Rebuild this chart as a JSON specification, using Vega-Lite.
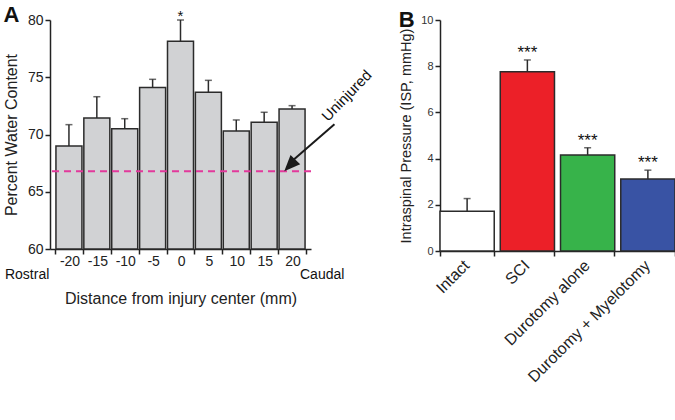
{
  "$schema": "https://vega.github.io/schema/vega-lite/v6.json",
  "background": "white",
  "padding": {"left": 3, "top": 4, "right": 2, "bottom": 2},
  "spacing": 23,
  "datasets": {
    "water": [
      {"d": -20, "v": 69.0, "e": 70.86, "sig": ""},
      {"d": -15, "v": 71.44, "e": 73.3, "sig": ""},
      {"d": -10, "v": 70.5, "e": 71.38, "sig": ""},
      {"d": -5, "v": 74.1, "e": 74.82, "sig": ""},
      {"d": 0, "v": 78.14, "e": 80.0, "sig": "*"},
      {"d": 5, "v": 73.7, "e": 74.73, "sig": ""},
      {"d": 10, "v": 70.3, "e": 71.27, "sig": ""},
      {"d": 15, "v": 71.06, "e": 71.94, "sig": ""},
      {"d": 20, "v": 72.23, "e": 72.52, "sig": ""}
    ],
    "isp": [
      {"cond": "Intact", "v": 1.72, "e": 2.27, "sig": ""},
      {"cond": "SCI", "v": 7.76, "e": 8.27, "sig": "***"},
      {"cond": "Durotomy alone", "v": 4.16, "e": 4.47, "sig": "***"},
      {"cond": "Durotomy + Myelotomy", "v": 3.12, "e": 3.5, "sig": "***"}
    ],
    "one": [{"note": "annotation"}]
  },
  "hconcat": [
    {
      "width": 261,
      "height": 229,
      "title": {"text": "A", "anchor": "start", "frame": "bounds", "fontSize": 22, "fontWeight": "bold", "color": "#111", "offset": -18},
      "layer": [
        {
          "data": {"name": "water"},
          "mark": {"type": "bar", "fill": "#d1d2d4", "stroke": "#2b2b2b", "strokeWidth": 1.5, "size": 26},
          "encoding": {
            "x": {
              "field": "d", "type": "quantitative",
              "scale": {"domain": [-22.5, 22.5], "nice": false, "zero": false},
              "axis": {
                "values": [-22.5, -17.5, -12.5, -7.5, -2.5, 2.5, 7.5, 12.5, 17.5, 22.5],
                "tickCount": 20,
                "labelExpr": "datum.value > 20 ? '' : '' + (datum.value + 2.5)",
                "labelOffset": 14.5,
                "labelFlush": false,
                "labelOverlap": false,
                "labelFontSize": 14,
                "labelPadding": 0,
                "tickSize": 5,
                "tickWidth": 1.5,
                "domainWidth": 1.5,
                "title": "Distance from injury center (mm)",
                "titleFontSize": 16,
                "titlePadding": 22
              }
            },
            "y": {
              "field": "v", "type": "quantitative",
              "scale": {"domain": [60, 80], "nice": false, "zero": false},
              "axis": {
                "values": [60, 65, 70, 75, 80],
                "tickCount": 10,
                "labelFontSize": 14,
                "labelPadding": 2,
                "tickSize": 5,
                "tickWidth": 1.5,
                "domainWidth": 1.5,
                "title": "Percent Water Content",
                "titleFontSize": 16,
                "titlePadding": 8
              }
            },
            "y2": {"datum": 60}
          }
        },
        {
          "data": {"name": "water"},
          "mark": {"type": "rule", "color": "#2b2b2b", "strokeWidth": 1.5},
          "encoding": {
            "x": {"field": "d", "type": "quantitative"},
            "y": {"field": "v", "type": "quantitative"},
            "y2": {"field": "e"}
          }
        },
        {
          "data": {"name": "water"},
          "mark": {"type": "tick", "orient": "horizontal", "color": "#2b2b2b", "size": 7, "thickness": 1.5},
          "encoding": {
            "x": {"field": "d", "type": "quantitative"},
            "y": {"field": "e", "type": "quantitative"}
          }
        },
        {
          "data": {"name": "water"},
          "mark": {"type": "text", "fontSize": 15, "baseline": "alphabetic", "dy": 1, "color": "#111"},
          "encoding": {
            "x": {"field": "d", "type": "quantitative"},
            "y": {"field": "e", "type": "quantitative"},
            "text": {"field": "sig"}
          }
        },
        {
          "data": {"name": "one"},
          "mark": {"type": "rule", "color": "#e2399b", "strokeWidth": 2, "strokeDash": [7, 5]},
          "encoding": {"y": {"datum": 66.8}}
        },
        {
          "data": {"name": "one"},
          "mark": {"type": "rule", "color": "#1a1a1a", "strokeWidth": 2},
          "encoding": {
            "x": {"datum": 27.6}, "y": {"datum": 70.9},
            "x2": {"datum": 19.8}, "y2": {"datum": 67.6}
          }
        },
        {
          "data": {"name": "one"},
          "mark": {"type": "point", "shape": "M0,0L-0.42,1L0.42,1Z", "filled": true, "color": "#1a1a1a", "opacity": 1, "size": 1024, "angle": 224},
          "encoding": {"x": {"datum": 18.6}, "y": {"datum": 66.8}}
        },
        {
          "data": {"name": "one"},
          "mark": {"type": "text", "fontSize": 15, "fontWeight": "normal", "angle": 314, "color": "#111", "align": "center", "baseline": "middle"},
          "encoding": {"x": {"datum": 29.8}, "y": {"datum": 73.4}, "text": {"value": "Uninjured"}}
        },
        {
          "data": {"name": "one"},
          "mark": {"type": "text", "fontSize": 14, "fontWeight": "normal", "color": "#111", "align": "center", "baseline": "middle"},
          "encoding": {"x": {"datum": -27.5}, "y": {"datum": 57.75}, "text": {"value": "Rostral"}}
        },
        {
          "data": {"name": "one"},
          "mark": {"type": "text", "fontSize": 14, "fontWeight": "normal", "color": "#111", "align": "center", "baseline": "middle"},
          "encoding": {"x": {"datum": 25.4}, "y": {"datum": 57.75}, "text": {"value": "Caudal"}}
        }
      ]
    },
    {
      "width": 235,
      "height": 231,
      "title": {"text": "B", "anchor": "start", "frame": "bounds", "fontSize": 22, "fontWeight": "bold", "color": "#111", "offset": -18},
      "data": {"name": "isp"},
      "layer": [
        {
          "mark": {"type": "bar", "stroke": "#2b2b2b", "strokeWidth": 1.5},
          "encoding": {
            "x": {
              "field": "cond", "type": "nominal", "sort": null,
              "scale": {"paddingInner": 0.1, "paddingOuter": 0},
              "axis": {
                "title": null,
                "labelAngle": -45,
                "labelFontSize": 16,
                "bandPosition": 1,
                "tickExtra": true,
                "labelOffset": -6,
                "labelPadding": 1,
                "tickSize": 5,
                "tickWidth": 1.5,
                "domainWidth": 1.5
              }
            },
            "y": {
              "field": "v", "type": "quantitative",
              "scale": {"domain": [0, 10], "nice": false},
              "axis": {
                "values": [0, 2, 4, 6, 8, 10],
                "tickCount": 10,
                "labelFontSize": 11,
                "labelColor": "#333",
                "labelPadding": 2,
                "tickSize": 5,
                "tickWidth": 1.5,
                "domainWidth": 1.5,
                "title": "Intraspinal Pressure (ISP, mmHg)",
                "titleFontSize": 14.5,
                "titlePadding": 7
              }
            },
            "color": {
              "field": "cond", "type": "nominal",
              "scale": {"domain": ["Intact", "SCI", "Durotomy alone", "Durotomy + Myelotomy"], "range": ["#ffffff", "#ec2028", "#37b34a", "#3953a4"]},
              "legend": null
            }
          }
        },
        {
          "mark": {"type": "rule", "color": "#2b2b2b", "strokeWidth": 1.5},
          "encoding": {
            "x": {"field": "cond", "type": "nominal", "sort": null},
            "y": {"field": "v", "type": "quantitative"},
            "y2": {"field": "e"}
          }
        },
        {
          "mark": {"type": "tick", "orient": "horizontal", "color": "#2b2b2b", "size": 7, "thickness": 1.5},
          "encoding": {
            "x": {"field": "cond", "type": "nominal", "sort": null},
            "y": {"field": "e", "type": "quantitative"}
          }
        },
        {
          "mark": {"type": "text", "fontSize": 17, "baseline": "alphabetic", "dy": -2, "color": "#111"},
          "encoding": {
            "x": {"field": "cond", "type": "nominal", "sort": null},
            "y": {"field": "e", "type": "quantitative"},
            "text": {"field": "sig"}
          }
        }
      ]
    }
  ],
  "config": {
    "font": "Liberation Sans",
    "view": {"stroke": null},
    "axis": {
      "grid": false,
      "labelOverlap": false,
      "titleFontWeight": "normal",
      "labelColor": "#222",
      "titleColor": "#222",
      "domainColor": "#222",
      "tickColor": "#222"
    }
  }
}
